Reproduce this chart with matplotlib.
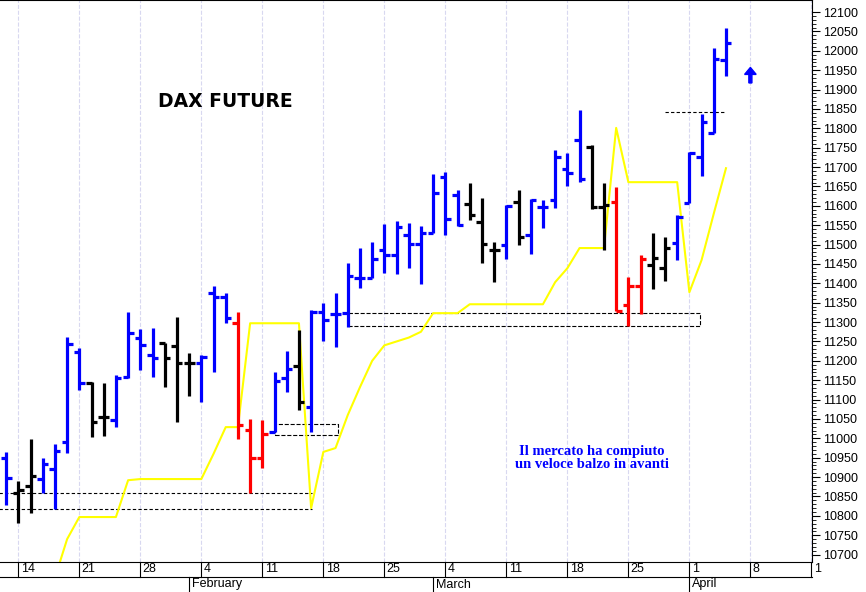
import numpy as np
import matplotlib
matplotlib.use("Agg")
import matplotlib.pyplot as plt
from matplotlib.lines import Line2D

plt.rcParams['font.family'] = ['Liberation Sans', 'DejaVu Sans']

# daily bars from Jan 11 (index 0) to Apr 5 (index 59)
opens = [10949, 10859, 10877, 10895, 10921, 10990, 11223, 11143, 11055, 11047,
         11158, 11259, 11215, 11246, 11238, 11194, 11194, 11375, 11364, 11297,
         11021, 10949, 11016, 11155, 11186, 11081, 11326, 11321, 11323, 11414,
         11414, 11486, 11473, 11524, 11501, 11530, 11674, 11628, 11605, 11558,
         11486, 11499, 11610, 11524, 11597, 11615, 11695, 11770, 11752, 11597,
         11610, 11344, 11393, 11447, 11439, 11504, 11607, 11726, 11788, 11976]
highs = [10965, 10890, 10998, 10949, 10985, 11261, 11233, 11145, 11143, 11163,
         11325, 11282, 11284, 11246, 11313, 11220, 11215, 11393, 11375, 11326,
         11050, 11047, 11171, 11225, 11279, 11331, 11349, 11375, 11452, 11490,
         11506, 11553, 11561, 11556, 11548, 11682, 11687, 11641, 11659, 11620,
         11506, 11602, 11641, 11617, 11615, 11744, 11736, 11847, 11757, 11659,
         11648, 11416, 11473, 11530, 11519, 11576, 11739, 11837, 12007, 12059]
lows = [10828, 10781, 10807, 10859, 10817, 10962, 11125, 11003, 11006, 11029,
        11155, 11176, 11158, 11132, 11042, 11109, 11094, 11171, 11297, 10998,
        10859, 10923, 11016, 11119, 11073, 11016, 11251, 11236, 11287, 11388,
        11414, 11426, 11424, 11439, 11398, 11530, 11524, 11548, 11563, 11452,
        11403, 11463, 11499, 11475, 11543, 11594, 11651, 11661, 11592, 11486,
        11328, 11290, 11321, 11385, 11406, 11460, 11607, 11677, 11788, 11935]
closes = [10897, 10867, 10903, 10934, 10967, 11243, 11143, 11042, 11055, 11155,
          11272, 11241, 11207, 11207, 11194, 11194, 11210, 11364, 11310, 11034,
          10949, 11011, 11148, 11179, 11094, 11326, 11305, 11321, 11419, 11414,
          11463, 11473, 11545, 11501, 11530, 11633, 11566, 11550, 11576, 11501,
          11486, 11599, 11519, 11615, 11597, 11726, 11685, 11669, 11597, 11602,
          11328, 11393, 11463, 11465, 11491, 11571, 11736, 11816, 11979, 12020]
# b = blue, k = black, r = red
trend = list("bkkbbbbkkb" "bbbkkkbbbr" "rrbbkbbbbb" "bbbbbbbbkk"
             "kbkbbbbbkk" "rrrkkbbbbb")

# yellow trailing line, starts at index 4
stop_start = 4
stop = [10640, 10740, 10797, 10797, 10797, 10797, 10892, 10895, 10895, 10895,
        10895, 10895, 10895, 10960, 11029, 11029, 11297, 11297, 11297, 11297,
        11297, 10820, 10965, 10975, 11060, 11132, 11200, 11240, 11250, 11260,
        11275, 11323, 11323, 11323, 11346, 11346, 11346, 11346, 11346, 11346,
        11346, 11403, 11439, 11491, 11491, 11491, 11801, 11661, 11661, 11661,
        11661, 11661, 11377, 11460, 11580, 11697]

day_ticks = [1, 6, 11, 16, 21, 26, 31, 36, 41, 46, 51, 56, 61, 66]
day_labels = ["14", "21", "28", "4", "11", "18", "25", "4", "11", "18", "25", "1", "8", "1"]
month_starts = [15, 35, 56]
month_labels = ["February", "March", "April"]

colors = {"b": "#0000ff", "k": "#000000", "r": "#ff0000"}

fig = plt.figure(figsize=(8.66, 5.92), dpi=100)
ax = fig.add_axes([0, 30 / 592, 812 / 866, 562 / 592])

for x in day_ticks:
    ax.axvline(x, color="#d8d8f0", linestyle="--", linewidth=0.8, zorder=0)

# support zones
ax.plot([-1, 25.1], [10859, 10859], "k--", lw=0.8, dashes=(3, 2))
ax.plot([-1, 25.1], [10817, 10817], "k--", lw=0.8, dashes=(3, 2))
ax.add_patch(plt.Rectangle((22, 11008), 5.2, 29, fill=False, ls="--", lw=0.8, ec="k"))
ax.add_patch(plt.Rectangle((28, 11290), 28.9, 33, fill=False, ls="--", lw=0.8, ec="k"))
ax.plot([54, 59], [11842, 11842], "k--", lw=0.8, dashes=(3, 2))

ax.plot(np.arange(stop_start, stop_start + len(stop)), stop, color="#ffff00", lw=1.5, zorder=2)

w = 0.45
for i in range(len(opens)):
    c = colors[trend[i]]
    ax.vlines(i, lows[i], highs[i], color=c, lw=2.3, zorder=3)
    ax.hlines(opens[i], i - w, i, color=c, lw=2.3, zorder=3)
    ax.hlines(closes[i], i, i + w, color=c, lw=2.3, zorder=3)

# up arrow
ax.arrow(61.0, 11917, 0, 40, width=0.25, head_width=0.95, head_length=18,
         length_includes_head=True, color="#0000ff", zorder=4)

ax.text(18.0, 11870, "DAX FUTURE", fontsize=13.5, fontweight="bold", ha="center", va="center",
        family=["DejaVu Sans"])
ax.text(48, 10949, "Il mercato ha compiuto\nun veloce balzo in avanti", color="#0000ff",
        fontsize=10.5, fontweight="bold", ha="center", va="center",
        family=["Liberation Serif"], linespacing=1.05)

ax.set_xlim(-0.5, 66.05)
ax.set_ylim(10681, 12131)
ax.set_xticks([])
ax.yaxis.tick_right()
ax.set_yticks(np.arange(10700, 12101, 50))
ax.set_yticks(np.arange(10700, 12101, 10), minor=True)
ax.tick_params(axis="y", which="major", length=6, width=0.8, labelsize=9, pad=2)
ax.tick_params(axis="y", which="minor", length=3, width=0.6)
for s in ax.spines.values():
    s.set_linewidth(0.8)
ax.spines["left"].set_visible(False)

# date rows under the plot
tr = ax.get_xaxis_transform()
r1 = -15 / 562
r2 = -30 / 562
ax.add_line(Line2D([-0.5, 66.05], [r1, r1], transform=tr, color="k", lw=0.8, clip_on=False))
for x, lab in zip(day_ticks, day_labels):
    ax.add_line(Line2D([x, x], [0, r1], transform=tr, color="k", lw=0.8, clip_on=False))
    ax.text(x + 0.2, r1 / 2, lab, transform=tr, fontsize=9, ha="left", va="center", clip_on=False)
for x, lab in zip(month_starts, month_labels):
    ax.add_line(Line2D([x, x], [r1, r2], transform=tr, color="k", lw=0.8, clip_on=False))
    ax.text(x + 0.2, (r1 + r2) / 2, lab, transform=tr, fontsize=9, ha="left", va="center",
            clip_on=False)

fig.savefig("out.png", dpi=100)
